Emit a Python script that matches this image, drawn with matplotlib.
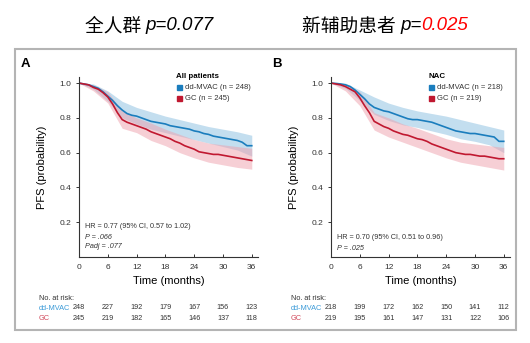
import matplotlib
matplotlib.use("Agg")
import matplotlib.pyplot as plt
from matplotlib.patches import Rectangle
from matplotlib.transforms import blended_transform_factory

# month grid for KM curves
months = list(range(37))

# panel A - all patients
a_mvac = [1.0, 0.995, 0.99, 0.98, 0.97, 0.95, 0.925, 0.90, 0.87, 0.845, 0.825, 0.815,
          0.81, 0.80, 0.79, 0.78, 0.775, 0.77, 0.765, 0.755, 0.75, 0.745, 0.74, 0.735,
          0.725, 0.72, 0.71, 0.705, 0.695, 0.69, 0.685, 0.68, 0.675, 0.67, 0.66, 0.64, 0.64]
a_gc = [1.0, 0.995, 0.99, 0.975, 0.965, 0.945, 0.92, 0.88, 0.83, 0.79, 0.775, 0.765,
        0.755, 0.745, 0.735, 0.72, 0.71, 0.70, 0.69, 0.68, 0.665, 0.655, 0.64, 0.63,
        0.62, 0.605, 0.60, 0.595, 0.59, 0.59, 0.585, 0.58, 0.575, 0.57, 0.565, 0.56, 0.555]

# panel B - NAC
b_mvac = [1.0, 0.998, 0.995, 0.99, 0.98, 0.96, 0.935, 0.91, 0.88, 0.86, 0.85, 0.84,
          0.835, 0.825, 0.815, 0.805, 0.795, 0.79, 0.79, 0.785, 0.78, 0.775, 0.765, 0.755,
          0.745, 0.735, 0.725, 0.72, 0.715, 0.71, 0.71, 0.705, 0.70, 0.695, 0.69, 0.665, 0.665]
b_gc = [1.0, 0.995, 0.99, 0.98, 0.965, 0.95, 0.915, 0.87, 0.83, 0.78, 0.765, 0.75,
        0.74, 0.725, 0.715, 0.705, 0.70, 0.69, 0.68, 0.675, 0.665, 0.65, 0.64, 0.63,
        0.62, 0.61, 0.60, 0.595, 0.59, 0.59, 0.585, 0.58, 0.58, 0.575, 0.57, 0.565, 0.565]

# confidence bands, every 3 months
band_t = [0, 3, 6, 9, 12, 15, 18, 21, 24, 27, 30, 33, 36]
a_mvac_hi = [1.0, 0.995, 0.955, 0.895, 0.86, 0.835, 0.81, 0.79, 0.77, 0.75, 0.735, 0.72, 0.70]
a_mvac_lo = [1.0, 0.965, 0.895, 0.80, 0.765, 0.735, 0.715, 0.695, 0.675, 0.655, 0.635, 0.615, 0.58]
a_gc_hi = [1.0, 0.99, 0.95, 0.84, 0.80, 0.77, 0.735, 0.705, 0.675, 0.655, 0.645, 0.635, 0.625]
a_gc_lo = [1.0, 0.955, 0.885, 0.74, 0.715, 0.67, 0.64, 0.60, 0.57, 0.545, 0.53, 0.515, 0.505]
b_mvac_hi = [1.0, 1.0, 0.96, 0.92, 0.885, 0.86, 0.84, 0.825, 0.81, 0.79, 0.77, 0.75, 0.73]
b_mvac_lo = [1.0, 0.97, 0.90, 0.82, 0.785, 0.76, 0.745, 0.725, 0.705, 0.68, 0.665, 0.645, 0.60]
b_gc_hi = [1.0, 0.995, 0.95, 0.83, 0.80, 0.765, 0.74, 0.71, 0.68, 0.66, 0.65, 0.64, 0.63]
b_gc_lo = [1.0, 0.955, 0.87, 0.73, 0.69, 0.66, 0.63, 0.60, 0.57, 0.545, 0.53, 0.515, 0.50]

risk_t = [0, 6, 12, 18, 24, 30, 36]
a_risk_mvac = [248, 227, 192, 179, 167, 156, 123]
a_risk_gc = [245, 219, 182, 165, 146, 137, 118]
b_risk_mvac = [218, 199, 172, 162, 150, 141, 112]
b_risk_gc = [219, 195, 161, 147, 131, 122, 106]

BLUE = "#1a7dbd"
RED = "#c01830"
NARROW = ["Liberation Sans Narrow", "Liberation Sans", "DejaVu Sans"]

plt.rcParams["font.family"] = NARROW

fig = plt.figure(figsize=(5.3, 3.43), dpi=100)

# gray frame around both panels
fig.patches.append(Rectangle((15 / 530, 1 - 330 / 343), 501 / 530, 281 / 343,
                             transform=fig.transFigure, fill=False,
                             edgecolor="#b4b4b4", lw=1.5))


def panel(left_px, mvac, gc, bands, group, n_mvac, n_gc, stats, risk_mvac, risk_gc, letter):
    ax = fig.add_axes([left_px / 530, 1 - 257 / 343, 179 / 530, 180 / 343])
    ax.fill_between(band_t, bands[0], bands[1], color="#93c3e2", alpha=0.55, lw=0)
    ax.fill_between(band_t, bands[2], bands[3], color="#eea0ac", alpha=0.5, lw=0)
    ax.plot(months, mvac, color=BLUE, lw=1.2)
    ax.plot(months, gc, color=RED, lw=1.2)

    ax.set_xlim(0, 37.3)
    ax.set_ylim(0, 1.035)
    ax.set_xticks(risk_t)
    ax.set_yticks([0.2, 0.4, 0.6, 0.8, 1.0])
    ax.tick_params(labelsize=6, length=2.5, width=0.7, colors="#333333", pad=3)
    ax.tick_params(axis="x", direction="in", pad=5)
    for s in ["top", "right"]:
        ax.spines[s].set_visible(False)
    for s in ["left", "bottom"]:
        ax.spines[s].set_color("#333333")
        ax.spines[s].set_linewidth(0.8)
    ax.set_xlabel("Time (months)", fontsize=8, labelpad=4)
    ax.set_ylabel("PFS (probability)", fontsize=8)
    ax.yaxis.set_label_coords(-0.179, 0.5)

    # legend
    ax.text(0.542, 1.0, group, transform=ax.transAxes, fontsize=5.7,
            fontweight="bold", va="center")
    for yy, col, lab in [(0.944, BLUE, n_mvac), (0.883, RED, n_gc)]:
        ax.plot([0.556], [yy], "s", color=col, ms=3.6, transform=ax.transAxes, clip_on=False)
        ax.text(0.59, yy, lab, transform=ax.transAxes, fontsize=5.5, va="center", color="#333333")

    # stats
    for yy, txt, st in stats:
        ax.text(0.034, yy, txt, transform=ax.transAxes, fontsize=5.2,
                va="center", style=st, color="#333333")

    # number at risk
    tr = blended_transform_factory(ax.transData, ax.transAxes)
    lab_x = (39 if letter == "A" else 291) / 530
    fig.text(lab_x, 1 - 298 / 343, "No. at risk:", fontsize=5.3, va="center", color="#333333")
    fig.text(lab_x, 1 - 308 / 343, "dd-MVAC", fontsize=5.3, va="center", color="#3a9ad8")
    fig.text(lab_x, 1 - 319 / 343, "GC", fontsize=5.3, va="center", color="#d24a5c")
    for t, m, g in zip(risk_t, risk_mvac, risk_gc):
        ax.text(t, -0.283, str(m), transform=tr, fontsize=5.2, ha="center", va="center",
                color="#333333", clip_on=False)
        ax.text(t, -0.344, str(g), transform=tr, fontsize=5.2, ha="center", va="center",
                color="#333333", clip_on=False)

    fig.text((25 if letter == "A" else 277) / 530, 1 - 64 / 343, letter,
             fontsize=9.5, fontweight="bold", family="Liberation Sans",
             ha="center", va="center")
    return ax


panel(79, a_mvac, a_gc, [a_mvac_lo, a_mvac_hi, a_gc_lo, a_gc_hi], "All patients",
      "dd-MVAC (n = 248)", "GC (n = 245)",
      [(0.167, "HR = 0.77 (95% CI, 0.57 to 1.02)", "normal"),
       (0.111, "P = .066", "italic"), (0.056, "Padj = .077", "italic")],
      a_risk_mvac, a_risk_gc, "A")

panel(331, b_mvac, b_gc, [b_mvac_lo, b_mvac_hi, b_gc_lo, b_gc_hi], "NAC",
      "dd-MVAC (n = 218)", "GC (n = 219)",
      [(0.106, "HR = 0.70 (95% CI, 0.51 to 0.96)", "normal"),
       (0.05, "P = .025", "italic")],
      b_risk_mvac, b_risk_gc, "B")

# titles above the panels
CJK = ["Noto Sans CJK SC", "DejaVu Sans"]
t1 = fig.text(85 / 530, 1 - 26 / 343, "全人群 ", family=CJK, fontsize=13.5, va="center")
plt.annotate("p=0.077", xy=(1, 0.5), xycoords=t1, va="center", ha="left",
             fontsize=13.5, style="italic", family="Liberation Sans")
t2 = fig.text(302 / 530, 1 - 26 / 343, "新辅助患者 ", family=CJK, fontsize=13.5, va="center")
t3 = plt.annotate("p=", xy=(1, 0.5), xycoords=t2, va="center", ha="left",
                  fontsize=13.5, style="italic", family="Liberation Sans")
plt.annotate("0.025", xy=(1, 0.5), xycoords=t3, va="center", ha="left",
             fontsize=13.5, style="italic", family="Liberation Sans", color="#ff0000")

fig.savefig("out.png", dpi=100)
